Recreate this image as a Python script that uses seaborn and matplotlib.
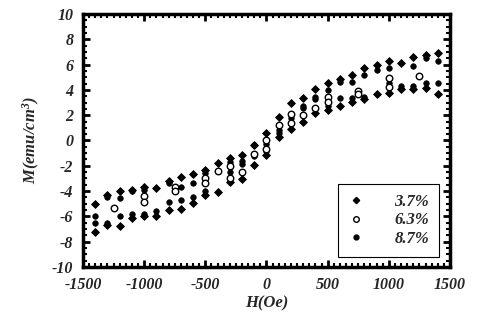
import numpy as np
import pandas as pd
import matplotlib
matplotlib.use("Agg")
import matplotlib.pyplot as plt
import seaborn as sns
from matplotlib.ticker import MultipleLocator
from matplotlib.lines import Line2D

# ---- data ----
h37_up = [-1400, -1300, -1200, -1100, -1000, -900, -800, -700, -600, -500, -400, -300, -200, -100, 0,
          100, 200, 300, 400, 500, 600, 700, 800, 900, 1000, 1100, 1200, 1300, 1400]
m37_up = [-5.0, -4.3, -3.97, -3.9, -3.65, -3.73, -3.18, -2.86, -2.65, -2.33, -1.8, -1.41, -1.15, -0.36, 0.62,
          1.83, 2.99, 3.34, 4.04, 4.52, 4.86, 5.15, 5.7, 5.97, 6.28, 6.1, 6.57, 6.76, 6.89]
h37_lo = [-1400, -1300, -1200, -1100, -1000, -900, -800, -700, -600, -500, -400, -300, -200, -100, 0,
          100, 200, 300, 400, 500, 600, 700, 800, 900, 1000, 1100, 1200, 1300, 1400]
m37_lo = [-7.2, -6.7, -6.76, -6.15, -6.0, -5.97, -5.5, -5.4, -4.97, -4.3, -4.11, -3.32, -3.06, -1.9, -1.15,
          0.3, 0.88, 1.46, 2.15, 2.41, 2.73, 3.07, 3.3, 3.68, 3.78, 4.04, 4.1, 4.12, 3.65]

h87_up = [-1400, -1300, -1200, -1100, -1000, -800, -700, -600, -500, -300, -200, -100, 0,
          100, 200, 300, 400, 500, 600, 700, 800, 900, 1000, 1200, 1300, 1400]
m87_up = [-6.0, -4.5, -4.57, -4.03, -3.9, -3.39, -3.65, -3.39, -2.58, -1.67, -1.6, -0.35, -0.3,
          0.83, 1.75, 2.73, 3.46, 3.99, 4.65, 4.65, 5.18, 5.57, 5.7, 5.91, 6.49, 6.28]
h87_lo = [-1400, -1300, -1200, -1100, -1000, -900, -800, -700, -600, -500, -300, -200, -100, 0,
          100, 300, 400, 500, 600, 700, 800, 1000, 1100, 1200, 1300, 1400]
m87_lo = [-6.5, -6.5, -5.97, -5.8, -5.8, -5.55, -4.9, -4.7, -4.44, -4.03, -2.5, -1.85, -1.2, -0.8,
          0.57, 2.54, 3.3, 2.73, 3.33, 3.33, 3.46, 4.52, 4.3, 4.3, 4.57, 4.57]

h63 = [-1250, -1000, -1000, -750, -750, -500, -500, -400, -300, -300, -200, -100, 0, 0,
       100, 200, 200, 300, 400, 500, 500, 750, 750, 1000, 1000, 1250]
m63 = [-5.3, -4.39, -4.9, -3.65, -4.03, -2.98, -3.4, -2.45, -2.0, -2.98, -2.5, -1.07, 0.04, -0.7,
       1.22, 2.1, 1.36, 2.0, 2.54, 3.46, 3.07, 3.94, 3.68, 4.92, 4.2, 5.12]

labels = ["3.7%", "6.3%", "8.7%"]
x_ticks = [-1500, -1000, -500, 0, 500, 1000, 1500]
y_ticks = [-10, -8, -6, -4, -2, 0, 2, 4, 6, 8, 10]

df37 = pd.DataFrame({"H": h37_up + h37_lo, "M": m37_up + m37_lo})
df63 = pd.DataFrame({"H": h63, "M": m63})
df87 = pd.DataFrame({"H": h87_up + h87_lo, "M": m87_up + m87_lo})

sns.set_theme(style="ticks")
plt.rcParams["font.family"] = ["Liberation Serif", "DejaVu Serif"]
plt.rcParams["font.style"] = "italic"
plt.rcParams["font.weight"] = "bold"
plt.rcParams["axes.unicode_minus"] = False
plt.rcParams["mathtext.fontset"] = "custom"
plt.rcParams["mathtext.it"] = "Liberation Serif:italic:bold"
plt.rcParams["mathtext.rm"] = "Liberation Serif:italic:bold"

fig = plt.figure(figsize=(4.92, 3.25), dpi=100)
ax = fig.add_axes([0.1687, 0.1785, 0.7459, 0.7785])

sns.scatterplot(data=df37, x="H", y="M", ax=ax, marker="D", s=16, color="black",
                edgecolor="black", linewidth=0.6, legend=False)
sns.scatterplot(data=df87, x="H", y="M", ax=ax, marker="o", s=16, color="black",
                edgecolor="black", linewidth=0.5, legend=False)
sns.scatterplot(data=df63, x="H", y="M", ax=ax, marker="o", s=22, facecolor="white",
                edgecolor="black", linewidth=1.0, legend=False)

ax.set_xlim(-1500, 1500)
ax.set_ylim(-10, 10)
ax.set_xticks(x_ticks)
ax.set_yticks(y_ticks)
ax.xaxis.set_minor_locator(MultipleLocator(50))
ax.yaxis.set_minor_locator(MultipleLocator(0.5))
ax.tick_params(which="both", direction="in", top=True, right=True, color="black")
ax.tick_params(which="major", length=5, width=2)
ax.tick_params(which="minor", length=3, width=1.5)
ax.tick_params(which="major", labelsize=11.5, pad=7)
for sp in ax.spines.values():
    sp.set_linewidth(2.5)
    sp.set_color("black")

ax.set_xlabel("H(Oe)", fontsize=12, fontweight="bold", fontstyle="italic", labelpad=2)
ax.set_ylabel("M(emu/cm$^3$)", fontsize=12, fontweight="bold", fontstyle="italic", labelpad=7)

handles = [
    Line2D([], [], marker="D", color="black", linestyle="none", markersize=3.2),
    Line2D([], [], marker="o", markerfacecolor="white", markeredgecolor="black", linestyle="none", markersize=4),
    Line2D([], [], marker="o", color="black", linestyle="none", markersize=3.5),
]
leg = ax.legend(handles, labels, loc="lower right", bbox_to_anchor=(0.97, 0.04),
                frameon=True, fancybox=False, framealpha=1, edgecolor="black",
                prop={"family": "Liberation Serif", "weight": "bold", "style": "italic", "size": 12},
                handlelength=1.0, handletextpad=1.8, labelspacing=0.15, borderpad=0.6,
                borderaxespad=0.0)
leg.get_frame().set_linewidth(0.8)

fig.savefig("out.png", dpi=100)
